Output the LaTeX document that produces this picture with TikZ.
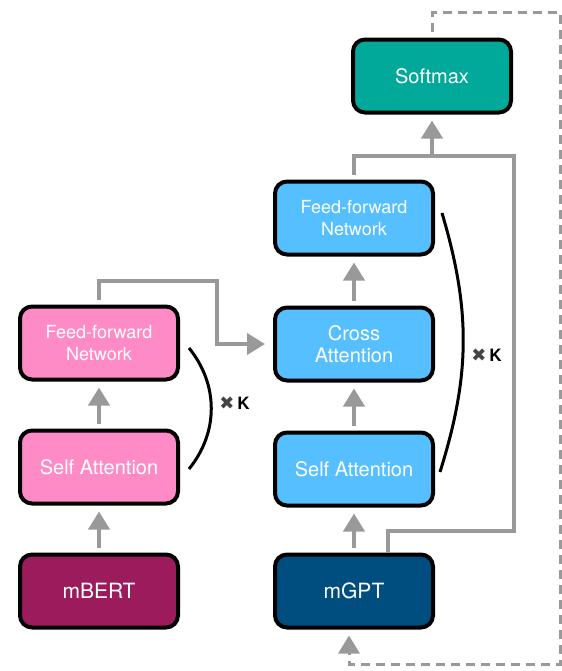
\documentclass[tikz,border=0pt]{standalone}
\usepackage{fontspec}
\setmainfont{TeX Gyre Heros}
\newfontfamily\markfont{DejaVu Sans}
\usetikzlibrary{positioning, arrows.meta, calc}

\definecolor{encpink}{HTML}{FF8BC6}
\definecolor{encdark}{HTML}{9C1B5D}
\definecolor{decblue}{HTML}{55BFFF}
\definecolor{decdark}{HTML}{004D80}
\definecolor{softteal}{HTML}{00A99A}
\definecolor{flowgray}{HTML}{999999}
\definecolor{markgray}{HTML}{444444}

\begin{document}
\begin{tikzpicture}[x=0.5pt, y=-0.5pt, node distance=62pt, on grid]
        \tikzset{block/.style={draw=black, line width=2pt, rounded corners=6pt,
            minimum width=79pt, minimum height=36.5pt, text=white, align=center,
            font=\fontsize{10}{11}\selectfont}}
        % Define attributes for the connectors
        \tikzstyle{flow}=[draw=flowgray, line width=2pt, shorten <=2.5pt]
        \tikzstyle{flow arrow}=[flow, shorten >=3pt, -{Triangle[width=10.5pt,length=9pt]}]
        \tikzstyle{repeat}=[draw=black, line width=1.5pt]
        \tikzstyle{times}=[right, font=\fontsize{8.5}{10}\selectfont\bfseries]

        \useasboundingbox (0,0) rectangle (562,671);

        % encoder column
        \node[block, fill=encdark, font=\fontsize{10.5}{12}\selectfont] (mBERT) at (99,591) {mBERT};
        \node[block, fill=encpink] (saL) [above=62pt of mBERT] {Self Attention};
        \node[block, fill=encpink, font=\fontsize{9}{11}\selectfont] (ffnL) [above=62pt of saL] {Feed-forward\\Network};

        % decoder column
        \node[block, fill=decdark, font=\fontsize{10.5}{12}\selectfont] (mGPT) [right=127.5pt of mBERT] {mGPT};
        \node[block, fill=decblue] (saR) [above=61pt of mGPT] {Self Attention};
        \node[block, fill=decblue] (caR) [above=62.5pt of saR] {Cross\\Attention};
        \node[block, fill=decblue, font=\fontsize{9}{11}\selectfont] (ffnR) [above=63pt of caR] {Feed-forward\\Network};
        \node[block, fill=softteal] (softmax) [above right=71pt and 39pt of ffnR] {Softmax};

        \coordinate (kneeL) at ($(ffnL.north)+(118,-24)$);
        \coordinate (topR) at ($(ffnR.north)+(160,-24)$);
        \coordinate (resR) at ($(mGPT.north)+(34,-22)$);
        \coordinate (loopTR) at (560,12);
        \coordinate (loopBR) at (560,664);

        \draw[flow arrow] (mBERT) -- (saL);
        \draw[flow arrow] (saL) -- (ffnL);
        \draw[flow arrow] (mGPT) -- (saR);
        \draw[flow arrow] (saR) -- (caR);
        \draw[flow arrow] (caR) -- (ffnR);

        \draw[flow arrow, shorten >=4pt] (ffnL.north) |- (kneeL) |- (caR.west);
        \draw[flow] (ffnR.north) |- (topR) |- (resR) -- (resR |- mGPT.north);
        \draw[flow arrow, shorten <=0pt] (softmax.south |- topR) -- (softmax.south);
        \draw[flow arrow, line width=1.5pt, dash pattern=on 4.5pt off 3pt, shorten <=3pt]
        (softmax.north) |- (loopTR) -- (loopBR) -| ($(mGPT.south)+(-5,0)$);

        \draw[repeat] ($(ffnL.east)+(9,5)$) to[bend left=39]
        node[times, yshift=2.5pt] {\textcolor{markgray}{\markfont\fontsize{9}{10}\selectfont ✖}\,K} ($(saL.east)+(9,2)$);
        \draw[repeat] ($(ffnR.east)+(7,-5)$) to[bend left=17]
        node[times, yshift=-6.5pt] {\textcolor{markgray}{\markfont\fontsize{9}{10}\selectfont ✖}\,K} ($(saR.east)+(5,3)$);
    \end{tikzpicture}
\end{document}
